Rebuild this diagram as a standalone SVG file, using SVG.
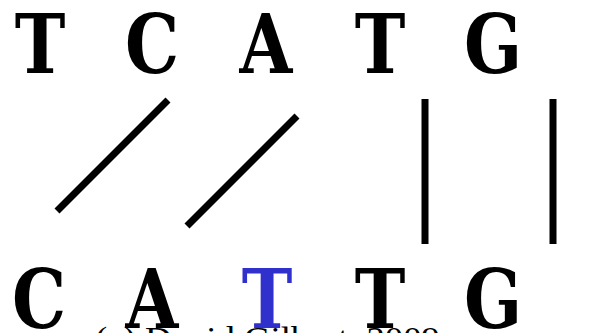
<svg xmlns="http://www.w3.org/2000/svg" width="589" height="333" viewBox="0 0 589 333">
<style>
.b{font-family:"DejaVu Serif","Liberation Serif",serif;font-weight:bold;font-size:82px;text-anchor:middle;fill:#000}
.blue{fill:#3030CC}
.c{stroke:#000;stroke-width:7;stroke-linecap:butt;fill:none}
.cr{font-family:"Liberation Serif","Times New Roman",serif;font-size:33px;fill:#000}
</style>
<rect width="589" height="333" fill="#fff"/>
<g id="top">
<text id="t1" class="b" transform="translate(40,73) scale(0.83,1)">T</text>
<text id="t2" class="b" transform="translate(152,73) scale(0.83,1)">C</text>
<text id="t3" class="b" transform="translate(266,73) scale(0.83,1)">A</text>
<text id="t4" class="b" transform="translate(380,73) scale(0.83,1)">T</text>
<text id="t5" class="b" transform="translate(493,73) scale(0.83,1)">G</text>
</g>
<g id="bottom">
<text id="b1" class="b" transform="translate(39,328) scale(0.83,1)">C</text>
<text id="b2" class="b" transform="translate(152,328) scale(0.83,1)">A</text>
<text id="b3" class="b blue" transform="translate(267,328) scale(0.83,1)">T</text>
<text id="b4" class="b" transform="translate(380,328) scale(0.83,1)">T</text>
<text id="b5" class="b" transform="translate(493,328) scale(0.83,1)">G</text>
</g>
<g id="connectors">
<line class="c" x1="168" y1="100" x2="57" y2="211"/>
<line class="c" x1="297" y1="116" x2="187" y2="226"/>
<line class="c" x1="425" y1="99" x2="425" y2="244"/>
<line class="c" x1="553" y1="99" x2="553" y2="244"/>
</g>
<text id="copyright" class="cr" x="95" y="350" textLength="345" lengthAdjust="spacingAndGlyphs">(c) David Gilbert, 2009</text>
</svg>
